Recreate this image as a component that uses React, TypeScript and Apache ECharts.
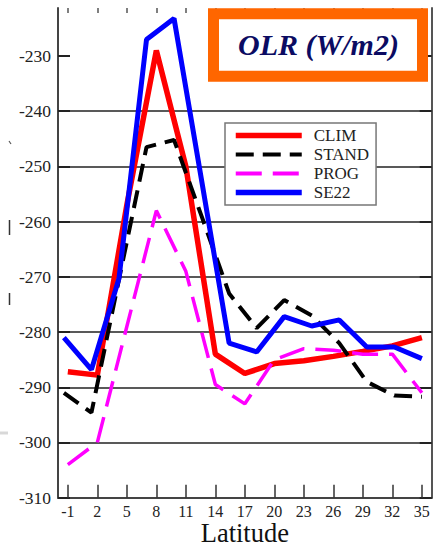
import React, { useEffect, useRef } from "react";
import * as echarts from "echarts";

// Latitudes for CLIM and PROG
const latA = [-1, 2, 5, 8, 11, 14, 17, 20, 23, 26, 29, 32, 35];
// Latitudes for STAND and SE22
const latB = [-1.4, 1.4, 4.2, 7, 9.8, 12.6, 15.4, 18.2, 21, 23.8, 26.6, 29.4, 32.2, 35];

const clim = [-287.2, -287.8, -257, -229, -250, -284, -287.5, -285.7, -285.2, -284.4, -283.5, -282.5, -281];
const prog = [-304, -300, -279, -258, -269, -289.5, -293, -285, -283, -283.3, -284, -284, -291];
const stand = [-291, -294.6, -270.5, -246.5, -245.2, -259, -273, -279.3, -274.2, -277, -282, -289, -291.5, -291.7];
const se22 = [-281, -286.8, -270.3, -227, -223.2, -252.5, -282, -283.6, -277.2, -278.9, -277.8, -282.7, -282.7, -284.8];

const xTicks = [-1, 2, 5, 8, 11, 14, 17, 20, 23, 26, 29, 32, 35];
const yTicks = [-310, -300, -290, -280, -270, -260, -250, -240, -230];

const FONT = "Liberation Serif";

function pairs(xs: number[], ys: number[]) {
  return xs.map((x, i) => [x, ys[i]]);
}

export default function App() {
  const ref = useRef<HTMLDivElement>(null);
  useEffect(() => {
    if (!ref.current) return;
    const chart = echarts.init(ref.current, null, { renderer: "svg" });
    const yMin = -310;
    const yMax = -221.3;
    const xMin = -2;
    const xMax = 36;
    chart.setOption({
      animation: false,
      backgroundColor: "#ffffff",
      grid: { left: 58, right: 8.3, top: 8, bottom: 46.3, containLabel: false, outerBoundsMode: "none" },
      legend: {
        show: true,
        data: [
          { name: "CLIM", lineStyle: { width: 5.5 } },
          { name: "STAND", lineStyle: { width: 4 } },
          { name: "PROG", lineStyle: { width: 4 } },
          { name: "SE22", lineStyle: { width: 5.5 } },
        ],
        orient: "vertical",
        left: 225,
        top: 123,
        padding: [4, 7, 4, 8],
        itemWidth: 66,
        itemHeight: 14,
        itemGap: 2,
        backgroundColor: "#ffffff",
        borderColor: "#777",
        borderWidth: 1.5,
        itemStyle: { opacity: 0 },
        textStyle: {
          fontFamily: FONT,
          fontSize: 17,
          lineHeight: 17,
          color: "#222",
          padding: [0, 0, 0, 7],
        },
      },
      xAxis: [
        {
          type: "value",
          position: "bottom",
          min: xMin,
          max: xMax,
          name: "Latitude",
          nameLocation: "middle",
          nameGap: 24,
          nameMoveOverlap: false,
          nameTextStyle: { fontFamily: FONT, fontSize: 26.5, lineHeight: 22, color: "#111" },
          axisLine: { show: true, onZero: false, lineStyle: { color: "#444", width: 2 } },
          axisTick: {
            show: true,
            inside: true,
            length: 13,
            customValues: xTicks,
            lineStyle: { color: "#333", width: 1.5 },
          },
          axisLabel: {
            show: true,
            customValues: xTicks,
            margin: 5.5,
            fontFamily: FONT,
            fontSize: 16,
            color: "#222",
          },
          splitLine: { show: false },
        },
        {
          type: "value",
          position: "top",
          min: xMin,
          max: xMax,
          axisLine: { show: false },
          axisTick: {
            show: true,
            inside: true,
            length: 5,
            customValues: xTicks,
            lineStyle: { color: "#555", width: 1.5 },
          },
          axisLabel: { show: false },
          splitLine: { show: false },
        },
      ],
      yAxis: [
        {
          type: "value",
          position: "left",
          min: yMin,
          max: yMax,
          interval: 10,
          axisLine: { show: true, onZero: false, lineStyle: { color: "#444", width: 2 } },
          axisTick: {
            show: true,
            inside: true,
            length: 12,
            customValues: yTicks,
            lineStyle: { color: "#222", width: 2 },
          },
          axisLabel: {
            show: true,
            customValues: yTicks,
            margin: 7,
            fontFamily: FONT,
            fontSize: 17.5,
            color: "#222",
          },
          splitLine: {
            show: true,
            showMaxLine: false,
            showMinLine: false,
            lineStyle: { color: "#222", width: 1.5 },
          },
        },
        {
          type: "value",
          position: "right",
          min: yMin,
          max: yMax,
          interval: 10,
          axisLine: { show: true, onZero: false, lineStyle: { color: "#555", width: 2 } },
          axisTick: {
            show: true,
            inside: true,
            length: 12,
            customValues: yTicks,
            lineStyle: { color: "#222", width: 2 },
          },
          axisLabel: { show: false },
          splitLine: { show: false },
        },
      ],
      graphic: [
        {
          type: "rect",
          shape: { x: 213.5, y: 13.8, width: 209, height: 62.5 },
          style: { fill: "#ffffff", stroke: "#ff6600", lineWidth: 11 },
          z: 100,
        },
        {
          type: "text",
          x: 318.5,
          y: 44,
          style: {
            text: "OLR (W/m2)",
            fontFamily: FONT,
            fontSize: 30,
            fontWeight: "bold",
            fontStyle: "italic",
            fill: "#0b0b62",
            align: "center",
            verticalAlign: "middle",
          },
          z: 101,
        },
        { type: "line", shape: { x1: 9, y1: 141, x2: 11, y2: 144 }, style: { stroke: "#555", lineWidth: 1.2 } },
        { type: "line", shape: { x1: 9.5, y1: 220, x2: 9.5, y2: 235 }, style: { stroke: "#333", lineWidth: 1.5 } },
        { type: "line", shape: { x1: 9.5, y1: 293, x2: 9.5, y2: 305 }, style: { stroke: "#333", lineWidth: 1.5 } },
        { type: "line", shape: { x1: 0, y1: 433, x2: 8, y2: 433 }, style: { stroke: "#d8d8d8", lineWidth: 3 } },
      ],
      series: [
        {
          name: "CLIM",
          type: "line",
          data: pairs(latA, clim),
          symbol: "none",
          lineStyle: { color: "#ff0000", width: 5.5 },
          itemStyle: { color: "#ff0000" },
        },
        {
          name: "STAND",
          type: "line",
          data: pairs(latB, stand),
          symbol: "none",
          lineStyle: { color: "#000000", width: 4, type: [18, 9] },
          itemStyle: { color: "#000000" },
        },
        {
          name: "PROG",
          type: "line",
          data: pairs(latA, prog),
          symbol: "none",
          lineStyle: { color: "#ff00ff", width: 3.5, type: [26, 11] },
          itemStyle: { color: "#ff00ff" },
        },
        {
          name: "SE22",
          type: "line",
          data: pairs(latB, se22),
          symbol: "none",
          lineStyle: { color: "#0000ff", width: 5 },
          itemStyle: { color: "#0000ff" },
        },
      ],
    });
    return () => chart.dispose();
  }, []);
  return (
    <div
      ref={ref}
      style={{ position: "fixed", left: 0, top: 0, width: 440, height: 544, background: "#fff" }}
    />
  );
}
